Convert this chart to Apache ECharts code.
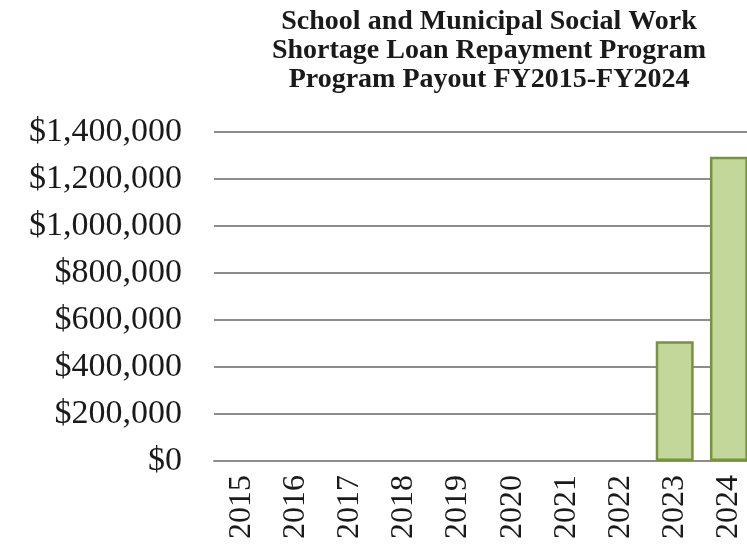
<!DOCTYPE html>
<html>
<head>
<meta charset="utf-8">
<script src="https://cdn.jsdelivr.net/npm/echarts@6/dist/echarts.min.js"></script>
<style>
  html, body { margin: 0; padding: 0; background: #fff; overflow: hidden; }
  /* the original plot runs past the right edge, so the canvas is a bit wider than the window */
  #chart { width: 760px; height: 546px; }
</style>
</head>
<body>
<div id="chart"></div>
<script>
const years = ['2015', '2016', '2017', '2018', '2019', '2020', '2021', '2022', '2023', '2024']
const payouts = [0, 0, 0, 0, 0, 0, 0, 0, 510000, 1295000]
const titleLines = [
  'School and Municipal Social Work',
  'Shortage Loan Repayment Program',
  'Program Payout FY2015-FY2024',
]

const chart = echarts.init(document.getElementById('chart'))

const serif = '"Liberation Serif", "Times New Roman", serif'

// zero years draw no outline, like the original
const barData = payouts.map((v) => ({
  value: v,
  itemStyle: v === 0 ? { borderWidth: 0 } : {},
}))

const option = {
  animation: false,
  backgroundColor: '#ffffff',
  title: {
    text: titleLines.join('\n'),
    left: 484,
    top: 2,
    textAlign: 'center',
    textStyle: {
      fontFamily: serif,
      fontWeight: 'bold',
      fontSize: 28,
      lineHeight: 29,
      color: '#1a1a1a',
    },
  },
  grid: {
    left: 214,
    top: 132,
    width: 542,
    height: 329,
    containLabel: false,
  },
  xAxis: {
    type: 'category',
    data: years,
    axisLine: { lineStyle: { color: '#8c8c8c', width: 2 } },
    axisTick: { show: false },
    axisLabel: {
      rotate: 90,
      margin: 14,
      fontFamily: serif,
      fontSize: 32,
      color: '#1a1a1a',
    },
  },
  yAxis: {
    type: 'value',
    min: 0,
    max: 1400000,
    interval: 200000,
    axisLine: { show: false },
    axisTick: { show: false },
    splitLine: { lineStyle: { color: '#8c8c8c', width: 2 } },
    axisLabel: {
      margin: 32,
      fontFamily: serif,
      fontSize: 34,
      color: '#1a1a1a',
      formatter: (v) => '$' + v.toLocaleString('en-US'),
    },
  },
  series: [
    {
      type: 'bar',
      data: barData,
      barWidth: '70%',
      itemStyle: {
        color: '#c4d79b',
        borderColor: '#77933c',
        borderWidth: 2.5,
      },
    },
  ],
}

chart.setOption(option)
</script>
</body>
</html>
